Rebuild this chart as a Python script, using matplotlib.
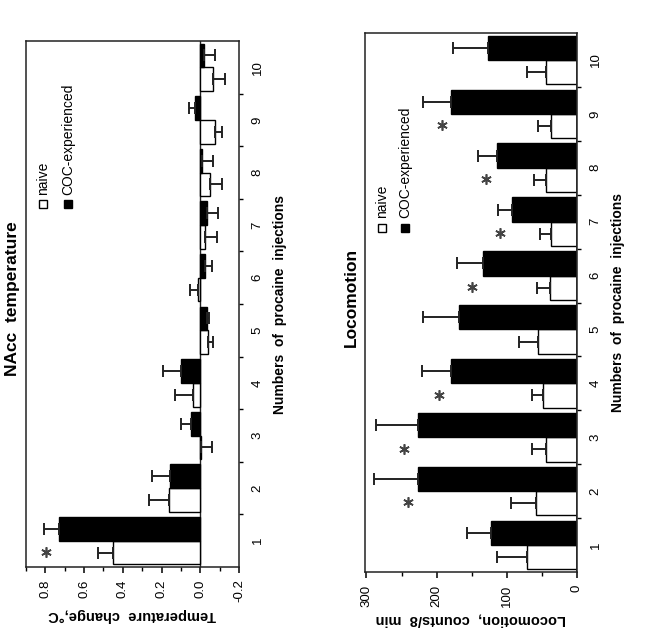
import matplotlib
matplotlib.use("Agg")
import matplotlib.pyplot as plt
import numpy as np

plt.rcParams['font.family'] = ['Liberation Sans', 'DejaVu Sans']

# injections 1..10
injections = np.arange(1, 11)

# NAcc temperature change, degC
temp_naive = [0.45, 0.159, -0.005, 0.037, -0.041, 0.01, -0.026, -0.05, -0.075, -0.066]
temp_naive_err = [0.08, 0.108, 0.055, 0.096, 0.024, 0.041, 0.061, 0.06, 0.035, 0.062]
temp_coc = [0.727, 0.155, 0.047, 0.10, -0.036, -0.023, -0.034, -0.01, 0.028, -0.02]
temp_coc_err = [0.08, 0.096, 0.053, 0.095, 0.01, 0.039, 0.058, 0.058, 0.03, 0.057]
temp_star_x = [1]
temp_star_v = [0.795]

# locomotion counts / 8 min
loco_naive = [71, 59, 44, 49, 56, 39, 37, 44, 37, 44]
loco_naive_err = [43, 35, 20, 15, 27, 18, 16, 17, 19, 27]
loco_coc = [123, 226, 226, 179, 168, 134, 92, 114, 179, 127]
loco_coc_err = [33, 63, 60, 42, 52, 37, 20, 27, 41, 49]
loco_star_x = [2, 3, 4, 6, 7, 8, 9]
loco_star_v = [241, 246, 197, 150, 110, 130, 193]

w = 0.45


def one_sided(vals, errs):
    vals = np.asarray(vals)
    errs = np.asarray(errs)
    lo = np.where(vals < 0, errs, 0)
    hi = np.where(vals >= 0, errs, 0)
    return [lo, hi]


def panel(ax, naive, naive_err, coc, coc_err, xlim, major, minor, ticklabels,
          xlabel, title, star_x, star_v, leg_pos):
    ax.barh(injections - w / 2, naive, height=w, color='white', edgecolor='black',
            linewidth=1.0, xerr=one_sided(naive, naive_err),
            error_kw=dict(ecolor='#222222', elinewidth=1.4, capsize=4, capthick=1.4),
            zorder=2)
    ax.barh(injections + w / 2, coc, height=w, color='black', edgecolor='black',
            linewidth=1.0, xerr=one_sided(coc, coc_err),
            error_kw=dict(ecolor='#222222', elinewidth=1.4, capsize=4, capthick=1.4),
            zorder=2)
    ax.axvline(0, color='#222222', lw=1.0, zorder=1)
    # significance asterisks
    ax.plot(star_v, np.asarray(star_x) - 0.21, ls='none', marker=(6, 2, 0), ms=7.5,
            mew=1.2, color='#444444')

    ax.set_xlim(*xlim)
    ax.set_ylim(0.5, 10.5)
    ax.set_xticks(major)
    ax.set_xticklabels(ticklabels, rotation=90, fontsize=9.5)
    ax.set_xticks(minor, minor=True)
    ax.tick_params(axis='x', which='major', direction='out', length=4, width=1.1, pad=5)
    ax.tick_params(axis='x', which='minor', direction='out', length=3, width=1.0)

    ax.yaxis.tick_right()
    ax.set_yticks(injections)
    ax.set_yticklabels([str(i) for i in injections], fontsize=9.5)
    for lab in ax.get_yticklabels():
        lab.set_rotation(90)
        lab.set_va('center')
    ax.set_yticks(injections[:-1] + 0.5, minor=True)
    ax.tick_params(axis='y', which='major', length=0, pad=9)
    ax.tick_params(axis='y', which='minor', direction='out', length=3, width=1.0)

    for s in ax.spines.values():
        s.set_linewidth(1.1)
        s.set_color('#222222')

    ax.set_xlabel(xlabel, rotation=180, fontsize=10.5, fontweight='bold', labelpad=4)
    ax.yaxis.set_label_position('right')
    ax.set_ylabel('Numbers  of  procaine  injections', rotation=90, fontsize=10,
                  fontweight='bold', labelpad=7)
    ax.text(-0.065, 0.51, title, transform=ax.transAxes, rotation=90, fontsize=12.5,
            fontweight='bold', ha='center', va='center')

    lx1, lx2, ly = leg_pos
    ax.plot([lx1], [ly], marker='s', ms=6, mfc='white', mec='black', mew=1,
            transform=ax.transAxes, clip_on=False)
    ax.plot([lx2], [ly], marker='s', ms=6, mfc='black', mec='black', mew=1,
            transform=ax.transAxes, clip_on=False)
    ax.text(lx1, ly + 0.017, 'naive', transform=ax.transAxes, rotation=90,
            fontsize=10, ha='center', va='bottom')
    ax.text(lx2, ly + 0.017, 'COC-experienced', transform=ax.transAxes, rotation=90,
            fontsize=10, ha='center', va='bottom')


fig = plt.figure(figsize=(6.45, 6.39), dpi=100)

ax1 = fig.add_axes([26 / 645, 1 - 567 / 639, 213 / 645, 526 / 639])
panel(ax1, temp_naive, temp_naive_err, temp_coc, temp_coc_err,
      (0.9, -0.2), [0.8, 0.6, 0.4, 0.2, 0.0, -0.2],
      np.round(np.arange(-0.2, 0.91, 0.1), 1),
      ['0.8', '0.6', '0.4', '0.2', '0.0', '-0.2'],
      'Temperature  change,°C', 'NAcc  temperature',
      temp_star_x, temp_star_v, (0.08, 0.197, 0.69))

ax2 = fig.add_axes([365 / 645, 1 - 572 / 639, 212 / 645, 539 / 639])
panel(ax2, loco_naive, loco_naive_err, loco_coc, loco_coc_err,
      (302, 0), [300, 200, 100, 0], np.arange(0, 301, 50),
      ['300', '200', '100', '0'],
      'Locomotion,  counts/8  min', 'Locomotion',
      loco_star_x, loco_star_v, (0.08, 0.19, 0.639))
ax2.axvline(0, color='#222222', lw=1.1)

fig.savefig('out.png', dpi=100)
